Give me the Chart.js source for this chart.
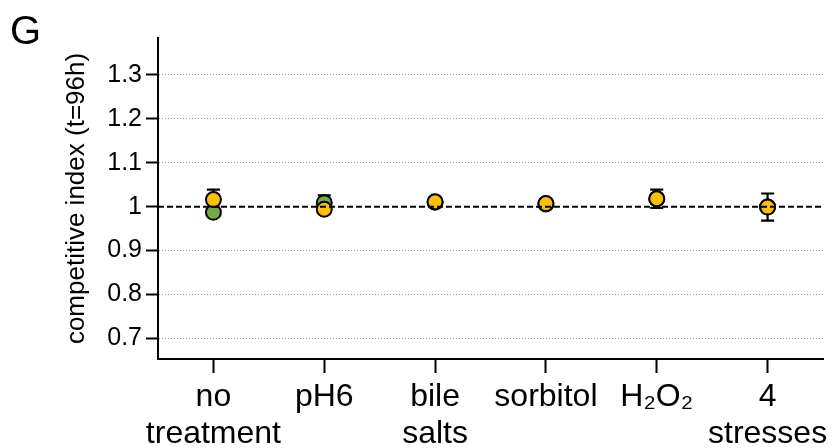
<!DOCTYPE html>
<html>
<head>
<meta charset="utf-8">
<script src="https://cdn.jsdelivr.net/npm/chart.js@4.4.1/dist/chart.umd.min.js"></script>
<style>
  body { margin: 0; background: #fff; }
  #wrap { width: 836px; height: 448px; position: relative; }
</style>
</head>
<body>
<div id="wrap"><canvas id="ci-chart"></canvas></div>
<script>
// categories (multi-line tick labels)
const categories = [['no', 'treatment'], ['pH6'], ['bile', 'salts'], ['sorbitol'], ['H\u2082O\u2082'], ['4', 'stresses']];

// yellow series and its error bars
const yellowValues = [1.016, 0.994, 1.011, 1.007, 1.018, 0.999];
const yellowErrors = [0.023, 0.008, 0.009, 0.006, 0.021, 0.031];

// green series (mostly hidden behind yellow)
const greenValues = [0.987, 1.009, 1.010, 1.006, 1.018, 0.999];
const greenErrors = [0.006, 0.017, 0.006, 0.005, 0.010, 0.010];

// y tick values
const yTicks = [0.7, 0.8, 0.9, 1, 1.1, 1.2, 1.3];
const refValue = 1;

const FONT = "'Liberation Sans', Arial, Helvetica, sans-serif";

// draw error bars behind the markers
const errorBars = {
  id: 'errorBars',
  beforeDatasetsDraw(chart) {
    const ctx = chart.ctx;
    const yScale = chart.scales.y;
    for (let i = chart.data.datasets.length - 1; i >= 0; i--) {
      const ds = chart.data.datasets[i];
      const meta = chart.getDatasetMeta(i);
      meta.data.forEach((pt, j) => {
        const v = ds.data[j];
        const e = ds.errors[j];
        const top = yScale.getPixelForValue(v + e);
        const bot = yScale.getPixelForValue(v - e);
        ctx.save();
        ctx.strokeStyle = '#000';
        ctx.lineWidth = 2.2;
        ctx.beginPath();
        ctx.moveTo(pt.x, top);
        ctx.lineTo(pt.x, bot);
        ctx.moveTo(pt.x - 6.5, top);
        ctx.lineTo(pt.x + 6.5, top);
        ctx.moveTo(pt.x - 6.5, bot);
        ctx.lineTo(pt.x + 6.5, bot);
        ctx.stroke();
        ctx.restore();
      });
    }
  }
};

// dashed reference line at 1, drawn over the markers
const refLine = {
  id: 'refLine',
  afterDatasetsDraw(chart) {
    const ctx = chart.ctx;
    const area = chart.chartArea;
    const y = chart.scales.y.getPixelForValue(refValue);
    ctx.save();
    ctx.strokeStyle = '#000';
    ctx.lineWidth = 2;
    ctx.setLineDash([6, 3]);
    ctx.beginPath();
    ctx.moveTo(area.left, y);
    ctx.lineTo(area.right, y);
    ctx.stroke();
    ctx.restore();
  }
};

// panel letter
const panelLetter = {
  id: 'panelLetter',
  afterDraw(chart) {
    const ctx = chart.ctx;
    ctx.save();
    ctx.fillStyle = '#000';
    ctx.font = '40px ' + FONT;
    ctx.textBaseline = 'alphabetic';
    ctx.fillText('G', 10, 44);
    ctx.restore();
  }
};

const ctx = document.getElementById('ci-chart').getContext('2d');
const chart = new Chart(ctx, {
  type: 'line',
  data: {
    labels: categories,
    datasets: [
      {
        label: 'yellow',
        data: yellowValues,
        errors: yellowErrors,
        showLine: false,
        pointRadius: 7.5,
        pointBackgroundColor: '#FFC000',
        pointBorderColor: '#000',
        pointBorderWidth: 2
      },
      {
        label: 'green',
        data: greenValues,
        errors: greenErrors,
        showLine: false,
        pointRadius: 7.5,
        pointBackgroundColor: '#70AD47',
        pointBorderColor: '#000',
        pointBorderWidth: 2
      }
    ]
  },
  options: {
    responsive: true,
    maintainAspectRatio: false,
    animation: false,
    layout: { padding: { left: 0, top: 38, right: 13, bottom: 0 } },
    plugins: {
      legend: { display: false },
      tooltip: { enabled: false }
    },
    scales: {
      x: {
        type: 'category',
        offset: true,
        grid: {
          drawOnChartArea: false,
          drawTicks: true,
          tickLength: 14,
          tickColor: '#000',
          tickWidth: 2
        },
        border: { display: true, color: '#000', width: 2 },
        ticks: {
          color: '#000',
          padding: 6,
          maxRotation: 0,
          autoSkip: false,
          font: { family: FONT, size: 32, lineHeight: 1.15 }
        },
        afterFit(scale) { scale.height = 89; }
      },
      y: {
        min: 0.6528,
        max: 1.3843,
        afterBuildTicks(scale) {
          scale.ticks = yTicks.map(v => ({ value: v }));
        },
        grid: {
          color: ctx => (ctx.tick && ctx.tick.value === refValue) ? 'rgba(0,0,0,0)' : '#9a9a9a',
          lineWidth: 1,
          drawTicks: true,
          tickLength: 12,
          tickColor: '#000',
          tickWidth: 2
        },
        border: { display: true, color: '#000', width: 2, dash: [1, 2] },
        ticks: {
          color: '#000',
          padding: 4,
          font: { family: FONT, size: 25 },
          callback: v => (v === 1 ? '1' : v.toFixed(1))
        },
        title: {
          display: true,
          text: 'competitive index (t=96h)',
          color: '#000',
          font: { family: FONT, size: 26 },
          padding: { top: 61, bottom: 0 }
        },
        afterFit(scale) { scale.width = 158; }
      }
    }
  },
  plugins: [errorBars, refLine, panelLetter]
});
</script>
</body>
</html>
